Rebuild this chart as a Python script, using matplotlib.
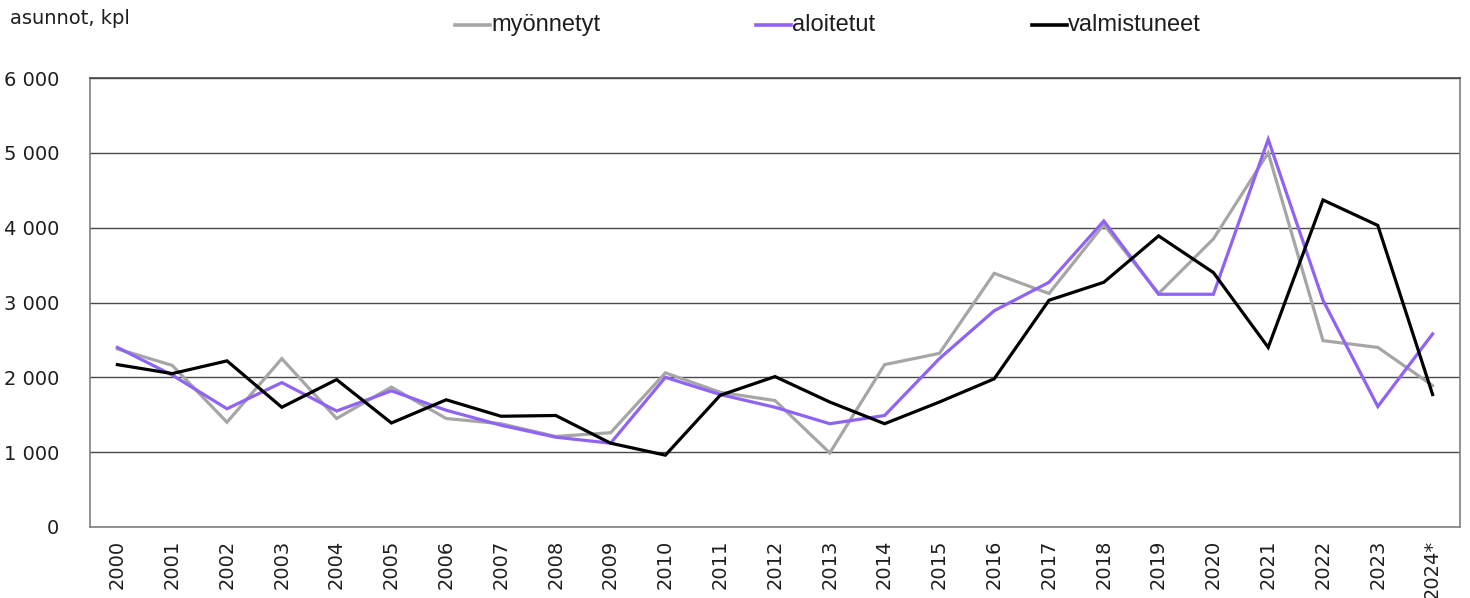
import matplotlib
matplotlib.use("Agg")
import matplotlib.pyplot as plt
from matplotlib.lines import Line2D
from matplotlib.ticker import FuncFormatter

years = ["2000", "2001", "2002", "2003", "2004", "2005", "2006", "2007", "2008",
         "2009", "2010", "2011", "2012", "2013", "2014", "2015", "2016", "2017",
         "2018", "2019", "2020", "2021", "2022", "2023", "2024*"]

myonnetyt = [2380, 2160, 1400, 2250, 1450, 1870, 1450, 1380, 1210, 1260, 2060,
             1800, 1690, 990, 2170, 2320, 3390, 3120, 4040, 3120, 3850, 5000,
             2490, 2400, 1890]
aloitetut = [2400, 2030, 1580, 1930, 1550, 1820, 1560, 1360, 1200, 1120, 2000,
             1770, 1600, 1380, 1490, 2250, 2890, 3270, 4090, 3110, 3110, 5180,
             3030, 1610, 2580]
valmistuneet = [2170, 2050, 2220, 1600, 1970, 1390, 1700, 1480, 1490, 1120, 960,
                1760, 2010, 1670, 1380, 1670, 1980, 3030, 3270, 3890, 3400, 2400,
                4370, 4030, 1770]

series = [
    ("myönnetyt", myonnetyt, "#a6a6a6"),
    ("aloitetut", aloitetut, "#8f63f4"),
    ("valmistuneet", valmistuneet, "#000000"),
]

plt.rcParams["font.family"] = ["DejaVu Sans"]
text_col = "#1e1e1e"

fig = plt.figure(figsize=(14.7, 5.98), dpi=100)
ax = fig.add_axes([90 / 1470, 1 - 527 / 598, 1370 / 1470, 449 / 598])

x = list(range(len(years)))
for name, vals, col in series:
    ax.plot(x, vals, color=col, lw=2.3, solid_joinstyle="miter")

ax.set_xlim(-0.5, len(years) - 0.5)
ax.set_ylim(0, 6000)
ax.set_yticks(range(0, 6001, 1000))
ax.yaxis.set_major_formatter(FuncFormatter(lambda v, p: f"{int(v):,}".replace(",", " ")))
ax.set_xticks(x)
ax.set_xticklabels(years, rotation=90, fontsize=14, color=text_col)
ax.tick_params(axis="y", labelsize=14, colors=text_col, length=0, pad=22)
ax.tick_params(axis="x", length=0, pad=9)

ax.grid(axis="y", color="#4a4a4a", lw=1.0)
ax.set_axisbelow(True)
for s in ["left", "right", "top", "bottom"]:
    ax.spines[s].set_color("#7f7f7f")
    ax.spines[s].set_linewidth(1.2)
ax.spines["top"].set_color("#4a4a4a")

fig.text(10 / 1470, 1 - 18 / 598, "asunnot, kpl", fontsize=14, color=text_col,
         ha="left", va="center")

# legend drawn across the top of the figure
legend_items = [(455, "myönnetyt", "#a6a6a6"),
                (756, "aloitetut", "#8f63f4"),
                (1032, "valmistuneet", "#000000")]
ly = 1 - 25 / 598
for lx, label, col in legend_items:
    fig.add_artist(Line2D([lx / 1470, (lx + 35) / 1470], [ly, ly], color=col,
                          lw=2.6, transform=fig.transFigure))
    fig.text((lx + 36) / 1470, ly, label, fontsize=17, color=text_col,
             ha="left", va="center",
             family=["Liberation Sans", "DejaVu Sans"])

fig.savefig("out.png", dpi=100, facecolor="white")
